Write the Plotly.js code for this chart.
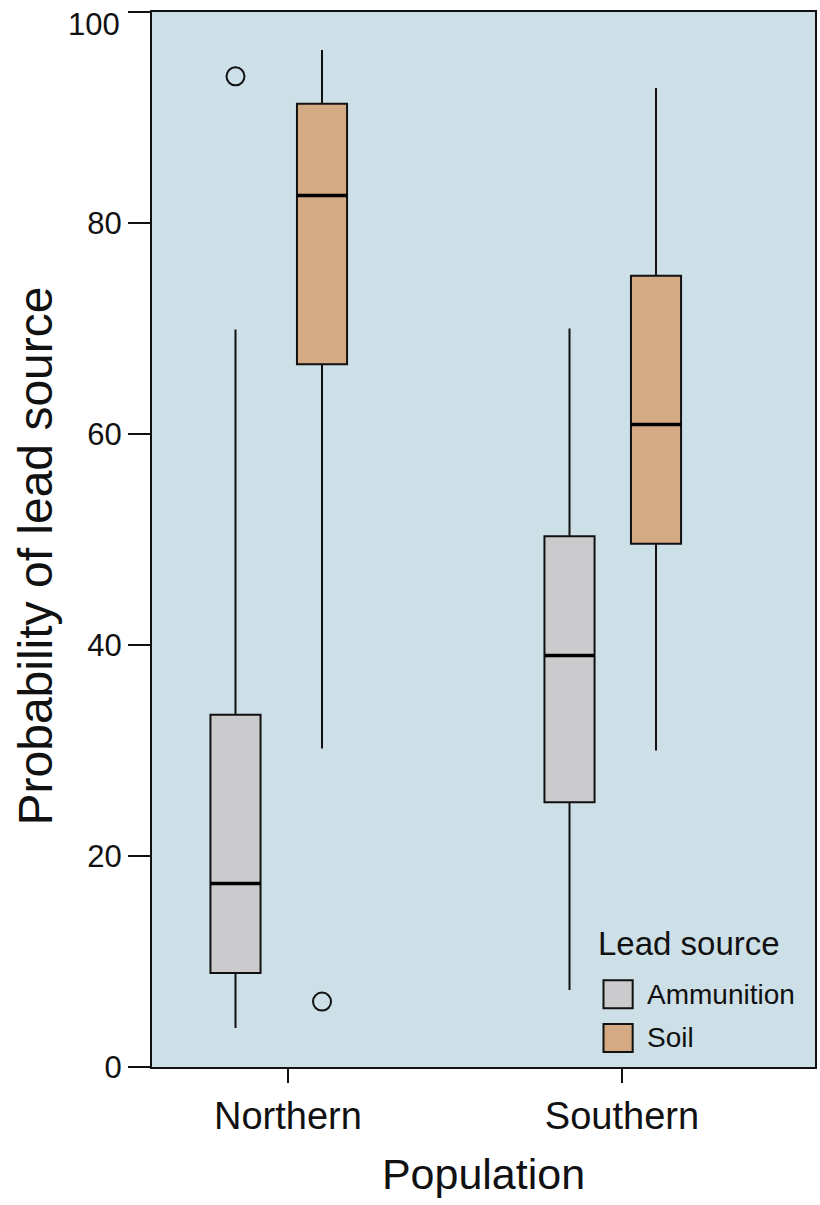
<!DOCTYPE html>
<html><head><meta charset="utf-8">
<script src="https://cdn.plot.ly/plotly-3.0.1.min.js"></script>
<style>body{margin:0;background:#fff}#chart{width:820px;height:1205px}</style>
</head><body><div id="chart"></div>
<script>
// ---- data ----
const populations = ["Northern", "Southern"];
const sources = ["Ammunition", "Soil"];
const ammoLowerFence = [3.7, 7.3];
const ammoQ1 = [8.9, 25.1];
const ammoMedian = [17.4, 39.0];
const ammoQ3 = [33.4, 50.3];
const ammoUpperFence = [69.9, 70.0];
const ammoOutliers = [[93.9], []];
const soilLowerFence = [30.2, 30.0];
const soilQ1 = [66.6, 49.6];
const soilMedian = [82.6, 60.9];
const soilQ3 = [91.3, 75.0];
const soilUpperFence = [96.4, 92.8];
const soilOutliers = [[6.2], []];
const yTicks = [0, 20, 40, 60, 80, 100];
const yTitle = "Probability of lead source";
const xTitle = "Population";
const legendTitle = "Lead source";

// ---- style ----
const colors = {Ammunition: "#cbcbcd", Soil: "#d4aa84"};
const offsets = {Ammunition: -0.157, Soil: 0.102};
const boxWidth = 0.15;
const font = "Liberation Sans, Arial, sans-serif";
const yMax = yTicks[yTicks.length - 1];

const idx = populations.map((_, i) => i);
const series = [
  {name: "Ammunition", lf: ammoLowerFence, q1: ammoQ1, med: ammoMedian, q3: ammoQ3, uf: ammoUpperFence, out: ammoOutliers},
  {name: "Soil", lf: soilLowerFence, q1: soilQ1, med: soilMedian, q3: soilQ3, uf: soilUpperFence, out: soilOutliers}
];

const traces = [];
series.forEach(s => {
  const xs = idx.map(i => i + offsets[s.name]);
  traces.push({
    type: "box", name: s.name, x: xs,
    q1: s.q1, median: s.med, q3: s.q3, lowerfence: s.lf, upperfence: s.uf,
    width: boxWidth, whiskerwidth: 0,
    fillcolor: colors[s.name],
    line: {color: "#111", width: 2},
    boxpoints: false, showlegend: false, hoverinfo: "skip"
  });
  const mx = [], my = [];
  xs.forEach((x, i) => { mx.push(x - boxWidth/2, x + boxWidth/2, null); my.push(s.med[i], s.med[i], null); });
  traces.push({type: "scatter", mode: "lines", x: mx, y: my, line: {color: "#000", width: 3.5}, showlegend: false, hoverinfo: "skip"});
  const ox = [], oy = [];
  s.out.forEach((arr, i) => arr.forEach(v => { ox.push(xs[i]); oy.push(v); }));
  traces.push({type: "scatter", mode: "markers", x: ox, y: oy,
    marker: {symbol: "circle-open", size: 18, color: "#111", line: {width: 2}}, showlegend: false, hoverinfo: "skip"});
});

const shapes = [], annotations = [];
// top tick label (drawn shifted down so it stays inside the picture, as in the reference)
annotations.push({xref: "paper", yref: "y", x: 0, y: yMax, xanchor: "right", yanchor: "top", xshift: -30, yshift: 7,
  text: String(yMax), showarrow: false, font: {family: font, size: 31, color: "#111"}});
// y title
annotations.push({xref: "paper", yref: "paper", x: 0, y: 0.5, xanchor: "center", yanchor: "middle", xshift: -117, yshift: -17,
  textangle: -90, text: yTitle, showarrow: false, font: {family: font, size: 48, color: "#111"}});
// manual legend
const legX0 = 0.681, legSw = 0.044, legY = [0.069, 0.0275], swH = 0.0265;
annotations.push({xref: "paper", yref: "paper", x: 0.67, y: 0.1166, xanchor: "left", yanchor: "middle",
  text: legendTitle, showarrow: false, font: {family: font, size: 33, color: "#111"}});
sources.forEach((s, i) => {
  shapes.push({type: "rect", xref: "paper", yref: "paper", x0: legX0, x1: legX0 + legSw,
    y0: legY[i] - swH/2, y1: legY[i] + swH/2, fillcolor: colors[s], line: {color: "#111", width: 2}});
  annotations.push({xref: "paper", yref: "paper", x: legX0 + legSw + 0.018, y: legY[i], xanchor: "left", yanchor: "middle",
    text: s, showarrow: false, font: {family: font, size: 28, color: "#111"}});
});

const layout = {
  width: 820, height: 1205,
  margin: {l: 152, r: 5, t: 12, b: 138},
  paper_bgcolor: "#fff", plot_bgcolor: "#cde0e7",
  font: {family: font, color: "#111"},
  showlegend: false,
  xaxis: {
    range: [-0.407, 1.578], tickvals: idx, ticktext: populations,
    showgrid: false, zeroline: false, showline: true, mirror: true, linecolor: "#111", linewidth: 2,
    ticks: "outside", ticklen: 14, tickwidth: 2, tickcolor: "#111",
    tickfont: {family: font, size: 38, color: "#111"},
    title: {text: xTitle, font: {family: font, size: 43, color: "#111"}, standoff: 23}
  },
  yaxis: {
    range: [0, yMax], tickvals: yTicks, ticktext: yTicks.map(v => v === yMax ? "" : String(v)),
    showgrid: false, zeroline: false, showline: true, mirror: true, linecolor: "#111", linewidth: 2,
    ticks: "outside", ticklen: 22, tickwidth: 2, tickcolor: "#111",
    tickfont: {family: font, size: 31, color: "#111"}
  },
  shapes: shapes, annotations: annotations
};

Plotly.newPlot("chart", traces, layout, {displayModeBar: false, staticPlot: true});
</script></body></html>
